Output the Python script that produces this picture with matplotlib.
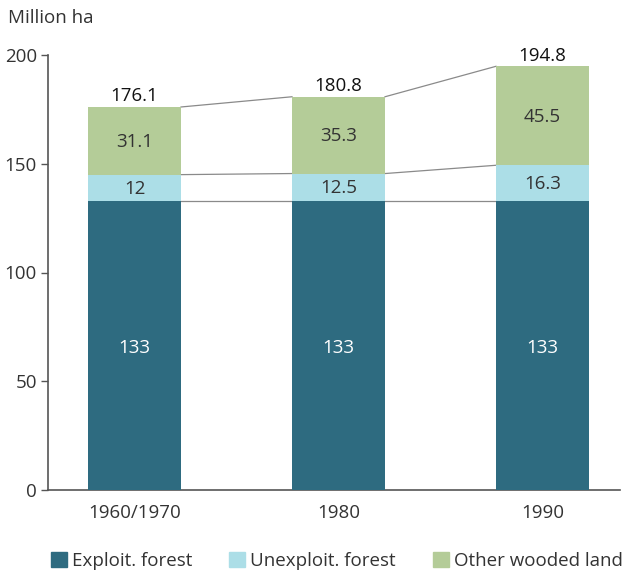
import numpy as np
import matplotlib.pyplot as plt
from matplotlib.patches import Patch

plt.rcParams['font.family'] = ['Open Sans', 'DejaVu Sans']

# data
years = ['1960/1970', '1980', '1990']
exploit = [133, 133, 133]
unexploit = [12, 12.5, 16.3]
other = [31.1, 35.3, 45.5]
totals = [176.1, 180.8, 194.8]

labels = ['Exploit. forest', 'Unexploit. forest', 'Other wooded land']
colors = ['#2e6b80', '#acdee7', '#b4cc98']

fs = 13.5

fig = plt.figure(figsize=(6.25, 5.75), dpi=100)
ax = fig.add_axes([48 / 625, 1 - 490 / 575, (620 - 48) / 625, (490 - 55) / 575])

x = np.arange(len(years))
w = 0.456
exploit = np.array(exploit)
unexploit = np.array(unexploit)
other = np.array(other)

ax.bar(x, exploit, w, color=colors[0], zorder=3)
ax.bar(x, unexploit, w, bottom=exploit, color=colors[1], zorder=3)
ax.bar(x, other, w, bottom=exploit + unexploit, color=colors[2], zorder=3)

# segment labels
for i in x:
    ax.text(i, exploit[i] / 2 - 1, f'{exploit[i]:g}', ha='center', va='center',
            color='white', fontsize=fs, zorder=4)
    ax.text(i, exploit[i] + unexploit[i] / 2 - 0.5, f'{unexploit[i]:g}', ha='center',
            va='center', color='#333333', fontsize=fs, zorder=4)
    ax.text(i, exploit[i] + unexploit[i] + other[i] / 2 - 0.5, f'{other[i]:g}',
            ha='center', va='center', color='#333333', fontsize=fs, zorder=4)
    ax.text(i, totals[i] + 0.8, f'{totals[i]:g}', ha='center', va='bottom',
            color='#111111', fontsize=fs, zorder=4)

# connector lines between bars
levels = [exploit, exploit + unexploit, np.array(totals)]
for lev in levels:
    for i in range(len(x) - 1):
        ax.plot([x[i] + w / 2, x[i + 1] - w / 2], [lev[i], lev[i + 1]],
                color='#8a8a8a', lw=0.9, zorder=2)

ax.set_xlim((48 - 134.5) / 204, (620 - 134.5) / 204)
ax.set_ylim(0, 200)
ax.set_yticks([0, 50, 100, 150, 200])
ax.set_xticks(x)
ax.set_xticklabels(years)
ax.tick_params(axis='x', length=0, pad=10, labelsize=fs, colors='#333333')
ax.tick_params(axis='y', length=5, width=1, labelsize=fs, colors='#555555',
               labelcolor='#333333', pad=3)

for s in ['top', 'right']:
    ax.spines[s].set_visible(False)
ax.spines['left'].set_color('#555555')
ax.spines['bottom'].set_color('#555555')
ax.spines['left'].set_linewidth(1.2)
ax.spines['bottom'].set_linewidth(1.2)

fig.text(8 / 625, 1 - 18 / 575, 'Million ha', fontsize=fs, color='#333333',
         va='center', ha='left')

handles = [Patch(color=c) for c in colors]
fig.legend(handles, labels, loc='center left', bbox_to_anchor=(34 / 625, 1 - 561 / 575),
           ncol=3, frameon=False, fontsize=fs, handlelength=0.85, handleheight=0.85,
           handletextpad=0.25, columnspacing=2.0, labelcolor='#333333')

fig.savefig('out.png', dpi=100)
